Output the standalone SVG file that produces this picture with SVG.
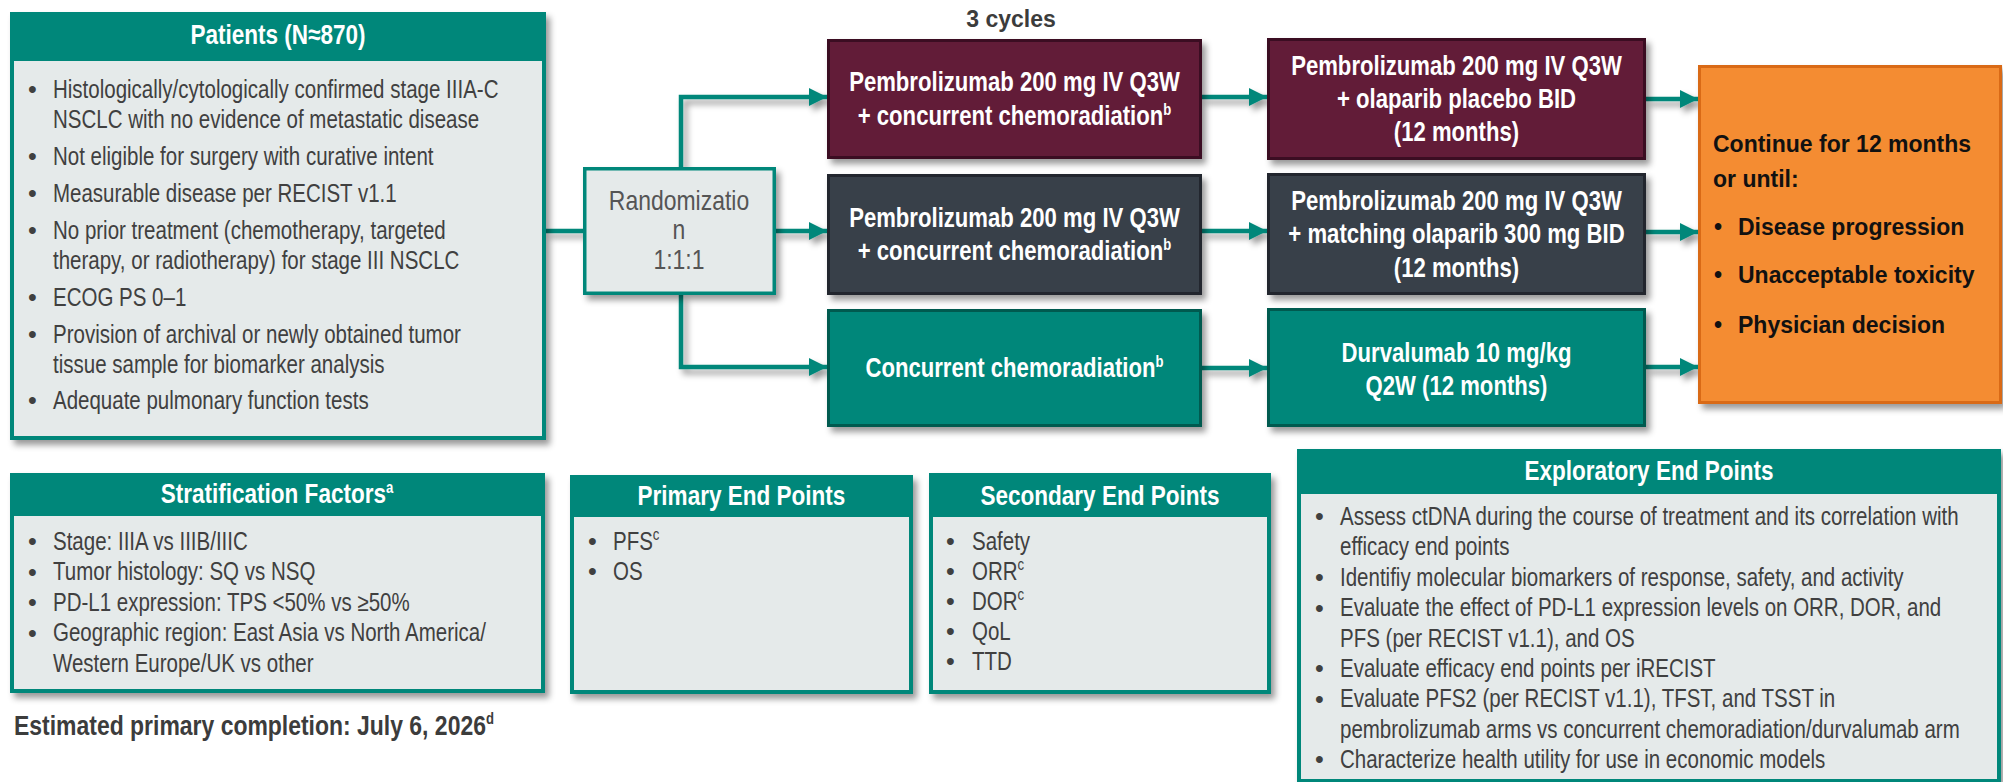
<svg xmlns="http://www.w3.org/2000/svg" width="2003" height="782" viewBox="0 0 2003 782">
  <defs>
    <style>
      .body { font-family: "Liberation Sans", Arial, sans-serif; font-size: 25px; fill: #404040; }
      .hd { font-family: "Liberation Sans", Arial, sans-serif; font-size: 27.5px; font-weight: bold; fill: #ffffff; text-anchor: middle; }
      .arm { font-family: "Liberation Sans", Arial, sans-serif; font-size: 27px; font-weight: bold; fill: #ffffff; text-anchor: middle; }
      .rand { font-family: "Liberation Sans", Arial, sans-serif; font-size: 28px; fill: #555555; text-anchor: middle; }
      .org { font-family: "Liberation Sans", Arial, sans-serif; font-size: 23px; font-weight: bold; fill: #111111; }
      .cyc { font-family: "Liberation Sans", Arial, sans-serif; font-size: 23px; font-weight: bold; fill: #3c3c3c; text-anchor: middle; }
      .est { font-family: "Liberation Sans", Arial, sans-serif; font-size: 28px; font-weight: bold; fill: #3c3c3c; }
      .teal { fill: #00877a; }
      .pane { fill: #e5eaea; }
      .conn { fill: none; stroke: #00877a; stroke-width: 4.5; }
      .sup { font-size: 16px; }
    </style>
    <filter id="shadow" filterUnits="userSpaceOnUse" x="0" y="0" width="2003" height="782">
      <feDropShadow dx="4" dy="5" stdDeviation="3" flood-color="#000000" flood-opacity="0.4"/>
    </filter>
    <marker id="arrow" viewBox="0 0 18 18" refX="18" refY="9" markerWidth="18" markerHeight="18" markerUnits="userSpaceOnUse" orient="auto">
      <path d="M0,0 L18,9 L0,18 z" fill="#00877a"/>
    </marker>
  </defs>

  <rect width="2003" height="782" fill="#ffffff"/>

  <!-- connectors -->
  <g id="connectors" filter="url(#shadow)">
    <line class="conn" x1="546" y1="231" x2="583" y2="231"/>
    <polyline class="conn" points="681,167 681,97 827,97" marker-end="url(#arrow)"/>
    <line class="conn" x1="776" y1="231" x2="827" y2="231" marker-end="url(#arrow)"/>
    <polyline class="conn" points="681,295 681,367 827,367" marker-end="url(#arrow)"/>
    <line class="conn" x1="1202" y1="97" x2="1267" y2="97" marker-end="url(#arrow)"/>
    <line class="conn" x1="1202" y1="231" x2="1267" y2="231" marker-end="url(#arrow)"/>
    <line class="conn" x1="1202" y1="368" x2="1267" y2="368" marker-end="url(#arrow)"/>
    <line class="conn" x1="1646" y1="99" x2="1698" y2="99" marker-end="url(#arrow)"/>
    <line class="conn" x1="1646" y1="232" x2="1698" y2="232" marker-end="url(#arrow)"/>
    <line class="conn" x1="1646" y1="367" x2="1698" y2="367" marker-end="url(#arrow)"/>
  </g>

  <!-- eligibility (narrow text: scale 0.82 about the text's own x) -->
  <g id="patients">
    <rect class="teal" x="10" y="12" width="536" height="428" filter="url(#shadow)"/>
    <rect class="pane" x="14" y="61" width="528" height="375"/>
    <text class="hd" x="278" y="44" transform="translate(50.04,0) scale(0.82,1)">Patients (N≈870)</text>
    <g class="body">
      <text x="28" y="98">•</text>
      <text x="28" y="165">•</text>
      <text x="28" y="202">•</text>
      <text x="28" y="239">•</text>
      <text x="28" y="306">•</text>
      <text x="28" y="343">•</text>
      <text x="28" y="409">•</text>
      <g transform="translate(9.54,0) scale(0.82,1)">
        <text x="53" y="98">Histologically/cytologically confirmed stage IIIA-C</text>
        <text x="53" y="128">NSCLC with no evidence of metastatic disease</text>
        <text x="53" y="165">Not eligible for surgery with curative intent</text>
        <text x="53" y="202">Measurable disease per RECIST v1.1</text>
        <text x="53" y="239">No prior treatment (chemotherapy, targeted</text>
        <text x="53" y="269">therapy, or radiotherapy) for stage III NSCLC</text>
        <text x="53" y="306">ECOG PS 0–1</text>
        <text x="53" y="343">Provision of archival or newly obtained tumor</text>
        <text x="53" y="373">tissue sample for biomarker analysis</text>
        <text x="53" y="409">Adequate pulmonary function tests</text>
      </g>
    </g>
  </g>

  <!-- randomization -->
  <g id="randomization">
    <rect x="584.75" y="168.75" width="189.5" height="124.5" fill="#e5eaea" stroke="#00877a" stroke-width="3.5" filter="url(#shadow)"/>
    <g transform="translate(122.22,0) scale(0.82,1)">
      <text class="rand" x="679" y="210">Randomizatio</text>
      <text class="rand" x="679" y="239">n</text>
      <text class="rand" x="679" y="269">1:1:1</text>
    </g>
  </g>

  <text id="cycles-label" class="cyc" x="1011" y="27">3 cycles</text>

  <!-- induction arms -->
  <g id="arm1-induction">
    <rect x="828.5" y="40.5" width="372" height="117" fill="#621f38" stroke="#3b1020" stroke-width="3" filter="url(#shadow)"/>
    <g transform="translate(182.61,0) scale(0.82,1)">
      <text class="arm" x="1014.5" y="91">Pembrolizumab 200 mg IV Q3W</text>
      <text class="arm" x="1014.5" y="125">+ concurrent chemoradiation<tspan class="sup" dy="-10">b</tspan></text>
    </g>
  </g>
  <g id="arm2-induction">
    <rect x="828.5" y="175.5" width="372" height="118" fill="#373f48" stroke="#22282e" stroke-width="3" filter="url(#shadow)"/>
    <g transform="translate(182.61,0) scale(0.82,1)">
      <text class="arm" x="1014.5" y="227">Pembrolizumab 200 mg IV Q3W</text>
      <text class="arm" x="1014.5" y="260">+ concurrent chemoradiation<tspan class="sup" dy="-10">b</tspan></text>
    </g>
  </g>
  <g id="arm3-induction">
    <rect x="828.5" y="310.5" width="372" height="115" fill="#00877a" stroke="#005a50" stroke-width="3" filter="url(#shadow)"/>
    <g transform="translate(182.61,0) scale(0.82,1)">
      <text class="arm" x="1014.5" y="377">Concurrent chemoradiation<tspan class="sup" dy="-10">b</tspan></text>
    </g>
  </g>

  <!-- maintenance arms -->
  <g id="arm1-maintenance">
    <rect x="1268.5" y="39.5" width="376" height="119" fill="#621f38" stroke="#3b1020" stroke-width="3" filter="url(#shadow)"/>
    <g transform="translate(262.17,0) scale(0.82,1)">
      <text class="arm" x="1456.5" y="75">Pembrolizumab 200 mg IV Q3W</text>
      <text class="arm" x="1456.5" y="108">+ olaparib placebo BID</text>
      <text class="arm" x="1456.5" y="141">(12 months)</text>
    </g>
  </g>
  <g id="arm2-maintenance">
    <rect x="1268.5" y="174.5" width="376" height="119" fill="#373f48" stroke="#22282e" stroke-width="3" filter="url(#shadow)"/>
    <g transform="translate(262.17,0) scale(0.82,1)">
      <text class="arm" x="1456.5" y="210">Pembrolizumab 200 mg IV Q3W</text>
      <text class="arm" x="1456.5" y="243.5">+ matching olaparib 300 mg BID</text>
      <text class="arm" x="1456.5" y="277">(12 months)</text>
    </g>
  </g>
  <g id="arm3-maintenance">
    <rect x="1268.5" y="309.5" width="376" height="116" fill="#00877a" stroke="#005a50" stroke-width="3" filter="url(#shadow)"/>
    <g transform="translate(262.17,0) scale(0.82,1)">
      <text class="arm" x="1456.5" y="362">Durvalumab 10 mg/kg</text>
      <text class="arm" x="1456.5" y="395">Q2W (12 months)</text>
    </g>
  </g>

  <!-- continuation criteria -->
  <g id="continuation">
    <rect x="1699.5" y="66.5" width="301" height="336" fill="#f48c30" stroke="#d96b17" stroke-width="3" filter="url(#shadow)"/>
    <text class="org" x="1713" y="152">Continue for 12 months</text>
    <text class="org" x="1713" y="187">or until:</text>
    <text class="org" x="1714" y="235">•</text><text class="org" x="1738" y="235">Disease progression</text>
    <text class="org" x="1714" y="283">•</text><text class="org" x="1738" y="283">Unacceptable toxicity</text>
    <text class="org" x="1714" y="333">•</text><text class="org" x="1738" y="333">Physician decision</text>
  </g>

  <!-- stratification -->
  <g id="stratification">
    <rect class="teal" x="10" y="473" width="535" height="220" filter="url(#shadow)"/>
    <rect class="pane" x="14" y="516" width="527" height="173"/>
    <text class="hd" x="277" y="503" transform="translate(49.86,0) scale(0.82,1)">Stratification Factors<tspan class="sup" dy="-10">a</tspan></text>
    <g class="body">
      <text x="28" y="550">•</text>
      <text x="28" y="580.5">•</text>
      <text x="28" y="611">•</text>
      <text x="28" y="641.5">•</text>
      <g transform="translate(9.54,0) scale(0.82,1)">
        <text x="53" y="550">Stage: IIIA vs IIIB/IIIC</text>
        <text x="53" y="580.5">Tumor histology: SQ vs NSQ</text>
        <text x="53" y="611">PD-L1 expression: TPS &lt;50% vs ≥50%</text>
        <text x="53" y="641.5">Geographic region: East Asia vs North America/</text>
        <text x="53" y="672">Western Europe/UK vs other</text>
      </g>
    </g>
  </g>

  <text id="completion" class="est" x="14" y="735" transform="translate(2.52,0) scale(0.82,1)">Estimated primary completion: July 6, 2026<tspan class="sup" dy="-11">d</tspan></text>

  <!-- primary end points -->
  <g id="primary">
    <rect class="teal" x="570" y="475" width="343" height="219" filter="url(#shadow)"/>
    <rect class="pane" x="574" y="517" width="335" height="173"/>
    <text class="hd" x="741.5" y="505" transform="translate(133.47,0) scale(0.82,1)">Primary End Points</text>
    <g class="body">
      <text x="588" y="550">•</text>
      <text x="588" y="580">•</text>
      <g transform="translate(110.34,0) scale(0.82,1)">
        <text x="613" y="550">PFS<tspan class="sup" dy="-10">c</tspan></text>
        <text x="613" y="580">OS</text>
      </g>
    </g>
  </g>

  <!-- secondary end points -->
  <g id="secondary">
    <rect class="teal" x="929" y="473" width="342" height="221" filter="url(#shadow)"/>
    <rect class="pane" x="933" y="517" width="334" height="173"/>
    <text class="hd" x="1100" y="505" transform="translate(198,0) scale(0.82,1)">Secondary End Points</text>
    <g class="body">
      <text x="946" y="550">•</text>
      <text x="946" y="580">•</text>
      <text x="946" y="610">•</text>
      <text x="946" y="640">•</text>
      <text x="946" y="670">•</text>
      <g transform="translate(174.96,0) scale(0.82,1)">
        <text x="972" y="550">Safety</text>
        <text x="972" y="580">ORR<tspan class="sup" dy="-10">c</tspan></text>
        <text x="972" y="610">DOR<tspan class="sup" dy="-10">c</tspan></text>
        <text x="972" y="640">QoL</text>
        <text x="972" y="670">TTD</text>
      </g>
    </g>
  </g>

  <!-- exploratory end points -->
  <g id="exploratory">
    <rect class="teal" x="1297" y="449" width="704" height="334" filter="url(#shadow)"/>
    <rect class="pane" x="1301" y="494" width="696" height="285"/>
    <text class="hd" x="1649" y="480" transform="translate(296.82,0) scale(0.82,1)">Exploratory End Points</text>
    <g class="body">
      <text x="1315" y="525">•</text>
      <text x="1315" y="586">•</text>
      <text x="1315" y="616.5">•</text>
      <text x="1315" y="677">•</text>
      <text x="1315" y="707.5">•</text>
      <text x="1315" y="768">•</text>
      <g transform="translate(241.2,0) scale(0.82,1)">
        <text x="1340" y="525">Assess ctDNA during the course of treatment and its correlation with</text>
        <text x="1340" y="555.5">efficacy end points</text>
        <text x="1340" y="586">Identifiy molecular biomarkers of response, safety, and activity</text>
        <text x="1340" y="616.5">Evaluate the effect of PD-L1 expression levels on ORR, DOR, and</text>
        <text x="1340" y="647">PFS (per RECIST v1.1), and OS</text>
        <text x="1340" y="677">Evaluate efficacy end points per iRECIST</text>
        <text x="1340" y="707.5">Evaluate PFS2 (per RECIST v1.1), TFST, and TSST in</text>
        <text x="1340" y="738">pembrolizumab arms vs concurrent chemoradiation/durvalumab arm</text>
        <text x="1340" y="768">Characterize health utility for use in economic models</text>
      </g>
    </g>
  </g>
</svg>
